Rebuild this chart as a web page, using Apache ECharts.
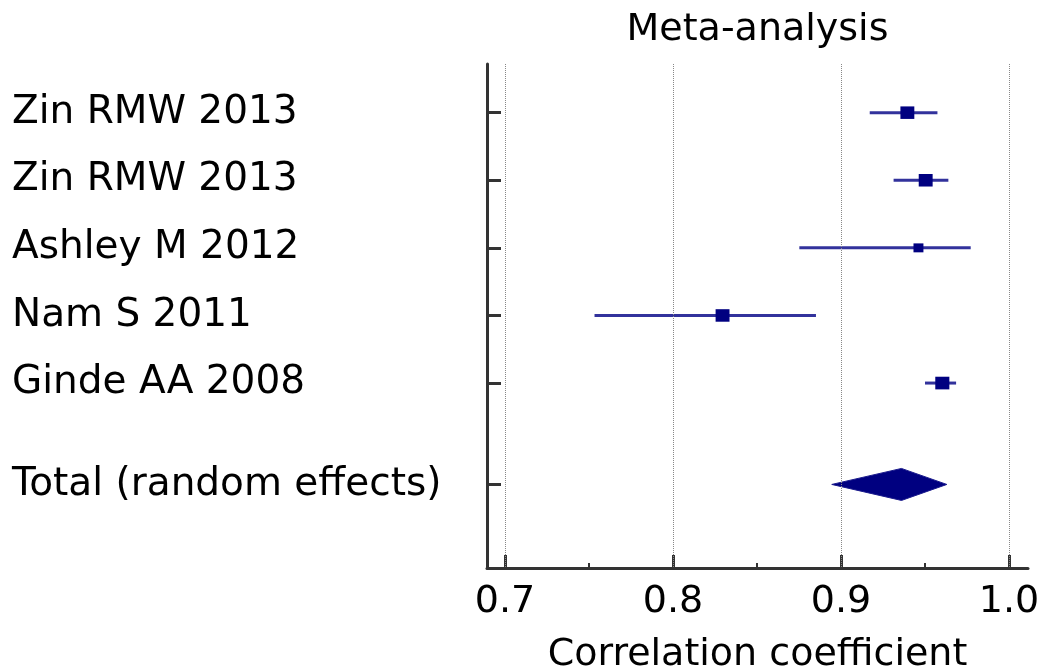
<!DOCTYPE html>
<html>
<head>
<meta charset="utf-8">
<style>
  html, body { margin: 0; padding: 0; background: #fff; }
  #chart { width: 1044px; height: 669px; }
</style>
<script src="https://cdn.jsdelivr.net/npm/echarts@6/dist/echarts.min.js"></script>
</head>
<body>
<div id="chart"></div>
<script>
// studies, top to bottom
const studyNames = ['Zin RMW 2013', 'Zin RMW 2013', 'Ashley M 2012', 'Nam S 2011', 'Ginde AA 2008'];
const estimates = [0.9395, 0.9504, 0.9461, 0.8295, 0.9603];
const lowerCI = [0.9171, 0.9313, 0.8752, 0.7533, 0.9500];
const upperCI = [0.9574, 0.9639, 0.9772, 0.8851, 0.9685];
const weights = [21.5, 21.5, 11, 21.5, 22];

// pooled estimate
const totalName = 'Total (random effects)';
const totalEstimate = 0.936;
const totalLower = 0.8945;
const totalUpper = 0.963;

// x axis ticks
const xTicks = [0.7, 0.8, 0.9, 1.0];
const xMinorTicks = [0.75, 0.85, 0.95];

const FONT = 'DejaVu Sans';
const AXIS_COLOR = '#333';
const NAVY = '#000080';

// total row sits one and a half rows below the last study
const rows = studyNames.map((_, i) => i + 1);
const totalRow = rows.length + 1.5;
const allRows = rows.concat([totalRow]);
const allNames = studyNames.concat([totalName]);

const studyData = studyNames.map((_, i) => [estimates[i], rows[i], lowerCI[i], upperCI[i], weights[i]]);

const renderStudy = (params, api) => {
  const y = api.value(1);
  const p = api.coord([api.value(0), y]);
  const pLo = api.coord([api.value(2), y]);
  const pHi = api.coord([api.value(3), y]);
  const s = 3 * Math.sqrt(api.value(4));
  return {
    type: 'group',
    children: [
      {
        type: 'line',
        shape: { x1: pLo[0], y1: pLo[1], x2: pHi[0], y2: pHi[1] },
        style: { stroke: '#32329c', lineWidth: 3 },
      },
      {
        type: 'rect',
        shape: { x: p[0] - s / 2, y: p[1] - s * 0.45, width: s, height: s * 0.9 },
        style: { fill: NAVY },
      },
    ],
  };
};

const renderTotal = (params, api) => {
  const y = api.value(1);
  const p = api.coord([api.value(0), y]);
  const pLo = api.coord([api.value(2), y]);
  const pHi = api.coord([api.value(3), y]);
  const h = 16;
  return {
    type: 'polygon',
    shape: { points: [[pLo[0], pLo[1]], [p[0], p[1] - h], [pHi[0], pHi[1]], [p[0], p[1] + h]] },
    style: { fill: NAVY, stroke: '#1a1a8c', lineWidth: 1 },
  };
};

const textStyle = { fontFamily: FONT, fontSize: 38, color: '#000' };

const option = {
  animation: false,
  grid: { left: 487, right: 16, top: 64, bottom: 101, containLabel: false, outerBoundsMode: 'none' },
  xAxis: [
    {
      type: 'value',
      min: 0.6893,
      max: 1.0113,
      position: 'bottom',
      axisLine: { lineStyle: { color: AXIS_COLOR, width: 3 } },
      axisTick: { inside: true, length: 13, customValues: xTicks, lineStyle: { color: AXIS_COLOR, width: 3 } },
      axisLabel: Object.assign({ customValues: xTicks, margin: 15, formatter: (v) => v.toFixed(1) }, textStyle),
      splitLine: { show: false },
      name: 'Correlation coefficient',
      nameLocation: 'middle',
      nameGap: 68,
      nameTextStyle: textStyle,
    },
    {
      type: 'value',
      min: 0.6893,
      max: 1.0113,
      position: 'bottom',
      axisLine: { show: false },
      axisTick: { inside: true, length: 5, customValues: xMinorTicks, lineStyle: { color: AXIS_COLOR, width: 2 } },
      axisLabel: { show: false },
      splitLine: { show: false },
    },
    {
      type: 'value',
      min: 0.6893,
      max: 1.0113,
      position: 'top',
      axisLine: { show: false },
      axisTick: { show: false },
      axisLabel: { show: false },
      splitLine: { show: false },
      name: 'Meta-analysis',
      nameLocation: 'middle',
      nameGap: 15,
      nameTextStyle: textStyle,
    },
  ],
  yAxis: {
    type: 'value',
    inverse: true,
    min: 0.28,
    max: 7.736,
    axisLine: { show: true, lineStyle: { color: AXIS_COLOR, width: 3 } },
    axisTick: { show: true, inside: true, length: 14, customValues: allRows, lineStyle: { color: AXIS_COLOR, width: 3 } },
    axisLabel: Object.assign({
      customValues: allRows,
      align: 'left',
      margin: 475,
      padding: [0, 0, 8, 0],
      formatter: (v) => allNames[allRows.indexOf(v)] || '',
    }, textStyle, { fontSize: 39 }),
    splitLine: { show: false },
  },
  series: [
    {
      // dotted vertical grid lines
      type: 'line',
      data: [],
      silent: true,
      z: 1,
      markLine: {
        silent: true,
        symbol: ['none', 'none'],
        label: { show: false },
        lineStyle: { type: 'dotted', color: '#888', width: 1 },
        data: xTicks.map((v) => ({ xAxis: v })),
      },
    },
    {
      type: 'custom',
      renderItem: renderStudy,
      encode: { x: [0, 2, 3], y: 1 },
      data: studyData,
      z: 3,
    },
    {
      type: 'custom',
      renderItem: renderTotal,
      encode: { x: [0, 2, 3], y: 1 },
      data: [[totalEstimate, totalRow, totalLower, totalUpper]],
      z: 3,
    },
  ],
};

const myChart = echarts.init(document.getElementById('chart'));
myChart.setOption(option);
</script>
</body>
</html>
